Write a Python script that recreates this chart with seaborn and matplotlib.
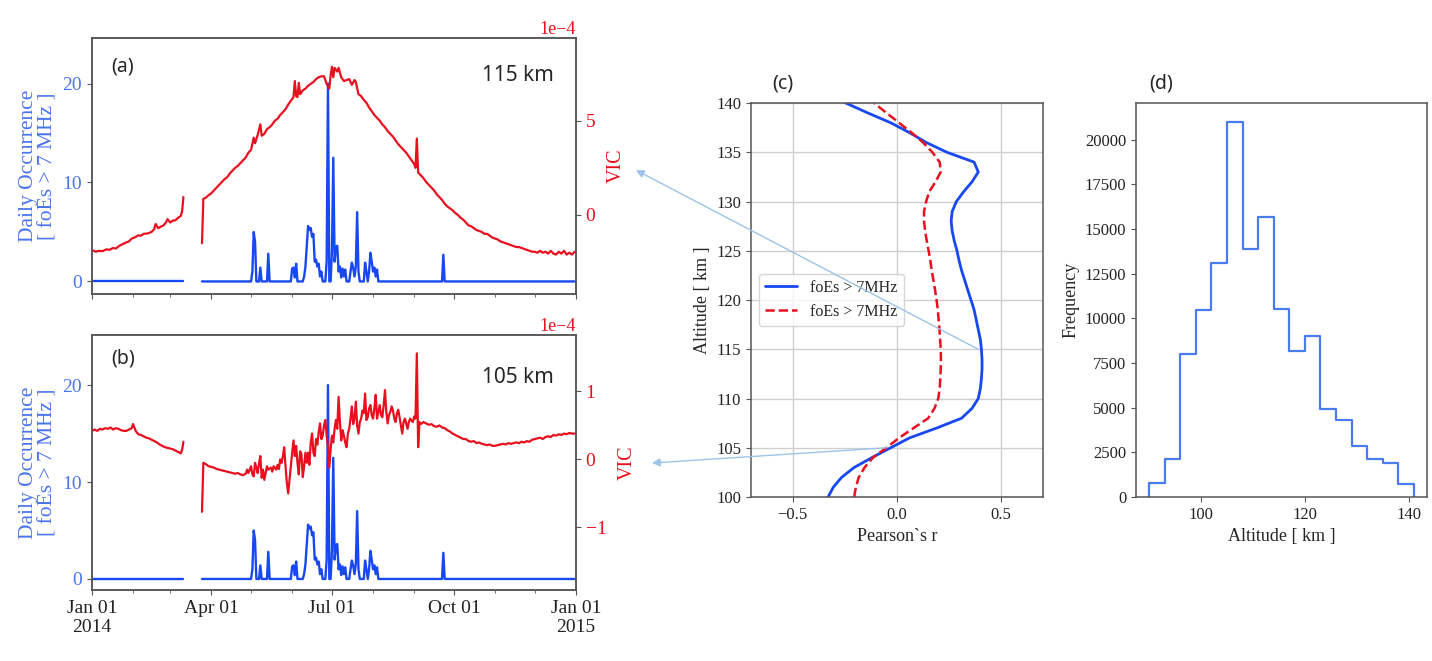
import numpy as np
import pandas as pd
import matplotlib
matplotlib.use("Agg")
import matplotlib.pyplot as plt
import matplotlib.dates as mdates
from matplotlib.patches import ConnectionPatch
import seaborn as sns

# ---------------- data ----------------
START = "2014-01-01"
GAP = (70, 82)  # missing days (day index from Jan 01)

# daily occurrence of foEs > 7 MHz (days not listed are zero)
occ_days = [121, 122, 123, 127, 133, 151, 152, 153, 154,
            160, 161, 162, 163, 164, 165, 166, 167, 168, 169, 170, 171, 172, 173,
            177, 178, 181, 182, 183, 184, 185, 186, 187, 188, 189, 190, 191,
            195, 196, 197, 198, 199, 200, 201,
            206, 207, 209, 210, 211, 212, 213, 214, 215, 265]
occ_vals = [1.0, 5.0, 4.0, 1.4, 2.8, 1.3, 1.4, 0.4, 1.8,
            0.5, 1.5, 3.5, 5.6, 5.2, 5.4, 4.5, 4.8, 2.0, 2.2, 1.5, 1.8, 0.5, 1.0,
            2.0, 20.0, 3.0, 12.5, 2.0, 3.5, 3.6, 1.0, 1.5, 0.4, 1.3, 0.5, 1.2,
            1.0, 1.9, 1.4, 0.5, 1.5, 7.0, 1.0,
            1.9, 1.0, 1.0, 2.9, 2.0, 1.0, 1.4, 0.5, 1.2, 2.7]

# VIC at 115 km (x 1e-4)
vic115_days = [0, 3, 5, 8, 11, 13, 16, 18, 21, 23, 26, 28, 30, 32, 35, 37, 39, 42, 45, 47,
               48, 50, 52, 54, 56, 57, 59, 61, 63, 65, 67, 68, 69,
               83, 84, 86, 88, 90, 92, 94, 96, 98, 100, 102, 104, 106, 108, 110, 112, 114,
               116, 118, 120, 122, 123, 125, 127, 128, 130, 132, 134, 136, 138, 140, 142,
               144, 146, 148, 150, 152, 153, 154, 155, 156, 157, 159, 161, 163, 165, 167,
               169, 171, 173, 175, 177, 179, 180, 181, 182, 183, 185, 186, 188, 190, 192,
               194, 196, 198, 199, 201, 203, 205, 207, 209, 211, 213, 215, 217, 219, 221,
               223, 225, 227, 229, 231, 233, 235, 237, 239, 241, 243, 244, 245, 246, 248,
               250, 252, 254, 256, 258, 260, 262, 264, 266, 268, 270, 272, 274, 276, 278,
               280, 282, 284, 286, 288, 290, 292, 294, 296, 298, 300, 302, 304, 306, 308,
               310, 312, 314, 316, 318, 320, 322, 324, 326, 328, 330, 332, 334, 336, 338,
               340, 342, 344, 346, 348, 350, 352, 354, 356, 358, 360, 362, 364]
vic115_vals = [-1.86, -1.95, -1.9, -1.92, -1.82, -1.85, -1.75, -1.78, -1.62, -1.55, -1.45,
               -1.4, -1.25, -1.2, -1.08, -1.1, -1.0, -0.98, -0.9, -0.75,
               -0.48, -0.7, -0.62, -0.55, -0.38, -0.22, -0.4, -0.3, -0.28, -0.15, -0.05, 0.2, 0.95,
               -1.5, 0.85, 0.92, 1.05, 1.15, 1.3, 1.45, 1.6, 1.75, 1.9, 2.0, 2.2, 2.35, 2.5,
               2.6, 2.75, 2.9,
               3.05, 3.3, 3.45, 4.1, 3.8, 4.25, 4.8, 4.2, 4.3, 4.55, 4.65, 4.8, 5.0, 5.1, 5.3,
               5.45, 5.6, 5.85, 6.05, 6.25, 7.1, 6.3, 6.25, 7.0, 6.4, 6.6, 6.7, 6.85, 6.95, 7.05,
               7.2, 7.3, 7.35, 7.35, 6.95, 6.7, 7.4, 7.85, 7.3, 7.8, 7.6, 7.8, 7.3, 7.1, 7.15,
               7.2, 6.9, 7.15, 7.05, 6.4, 6.3, 6.1, 5.95, 5.7, 5.5, 5.3, 5.15, 5.0, 4.8, 4.65,
               4.45, 4.3, 4.15, 3.95, 3.75, 3.6, 3.45, 3.3, 3.1, 2.9, 2.7, 2.5, 4.05, 2.25, 2.1,
               1.95, 1.75, 1.6, 1.45, 1.3, 1.1, 0.95, 0.8, 0.6, 0.45, 0.35, 0.25, 0.1, 0.0, -0.15,
               -0.25, -0.4, -0.55, -0.6, -0.7, -0.8, -0.85, -0.9, -1.0, -1.0, -1.1, -1.2, -1.25,
               -1.3, -1.4,
               -1.45, -1.5, -1.55, -1.6, -1.65, -1.7, -1.7, -1.75, -1.8, -1.85, -1.9, -1.95,
               -1.95, -2.0, -1.9,
               -2.0, -1.95, -2.05, -1.9, -2.05, -2.1, -1.95, -2.05, -1.9, -2.1, -2.0, -2.1, -1.95]

# VIC at 105 km (x 1e-4)
vic105_days = [0, 2, 4, 6, 8, 10, 12, 14, 16, 18, 20, 22, 24, 26, 28, 30, 31, 33, 35, 37,
               39, 41, 43, 45, 47, 49, 51, 53, 55, 57, 59, 61, 63, 65, 67, 68, 69,
               83, 84, 86, 88, 90, 92, 94, 96, 98, 100, 102, 104, 106, 108, 110, 112, 114,
               116, 117, 118, 120, 121, 122, 123, 124, 125, 126, 127, 128, 129, 130, 131,
               132, 133, 135, 136, 137, 139, 140, 141, 142, 143, 144, 145, 146, 147, 148,
               149, 150, 151, 152, 153, 154, 155, 156, 157, 158, 159, 160, 161, 162, 163,
               164, 165, 166, 167, 168, 169, 170, 171, 172, 173, 174, 175, 176, 177, 178,
               179, 180, 181, 182, 183, 184, 185, 186, 187, 188, 189, 190, 191, 192, 193,
               194, 195, 196, 197, 198, 199, 200, 201, 202, 203, 204, 205, 206, 207, 208,
               209, 210, 211, 212, 213, 214, 215, 216, 217, 218, 219, 220, 221, 222, 223,
               224, 225, 226, 227, 228, 229, 230, 231, 232, 233, 234, 235, 236, 237, 238,
               239, 240, 241, 242, 243, 244, 245, 246, 247, 248, 250, 252, 254, 256, 258,
               260, 262, 264, 266, 268, 270, 272, 274, 276, 278, 280, 282, 284, 286, 288,
               290, 292, 294, 296, 298, 300, 302, 304, 306, 308, 310, 312, 314, 316, 318,
               320, 322, 324, 326, 328, 330, 332, 334, 336, 338, 340, 342, 344, 346, 348,
               350, 352, 354, 356, 358, 360, 362, 364]
vic105_vals = [0.42, 0.44, 0.42, 0.45, 0.44, 0.46, 0.45, 0.47, 0.44, 0.46, 0.45, 0.43, 0.42,
               0.42, 0.44, 0.46, 0.52, 0.42, 0.37, 0.36,
               0.34, 0.32, 0.31, 0.29, 0.27, 0.25, 0.22, 0.2, 0.18, 0.17, 0.16, 0.15, 0.13,
               0.11, 0.09, 0.14, 0.26,
               -0.77, -0.05, -0.07, -0.1, -0.11, -0.12, -0.14, -0.15, -0.16, -0.17, -0.18,
               -0.19, -0.2, -0.21, -0.2, -0.22, -0.23,
               -0.21, -0.15, -0.2, -0.1, -0.22, -0.25, -0.05, -0.12, -0.2, -0.06, 0.05, -0.27,
               -0.15, -0.3, -0.2,
               -0.1, -0.15, -0.12, -0.18, -0.1, -0.15, -0.08, -0.14, 0.0, -0.05, 0.05, 0.18,
               -0.1, -0.35, -0.5,
               -0.3, -0.1, 0.1, 0.28, 0.05, 0.2, -0.05, -0.22, 0.12, 0.08, -0.26, -0.1, 0.1,
               -0.05, 0.1,
               -0.08, 0.25, 0.38, 0.1, 0.05, 0.3, 0.22, 0.4, 0.53, 0.3, 0.35, 0.5, 0.58, 0.35,
               0.19,
               -0.12, 0.15, 0.35, 0.25, 0.45, 0.58, 0.45, 0.92, 0.55, 0.28, 0.43, 0.35, 0.25,
               0.18, 0.38,
               0.45, 0.6, 0.78, 0.52, 0.6, 0.85, 0.5, 0.38, 0.55, 0.6, 0.72, 0.68, 0.97, 0.58,
               0.62,
               0.75, 0.8, 0.65, 0.6, 0.75, 0.95, 0.6, 0.7, 0.8, 0.65, 0.62, 0.8, 1.02, 0.7, 0.53,
               0.65, 0.7, 0.78, 0.72, 0.6, 0.55, 0.68, 0.73, 0.62, 0.5, 0.38, 0.55, 0.6, 0.53,
               0.45,
               0.55, 0.6, 0.57, 0.55, 0.63, 0.6, 1.56, 0.18, 0.55, 0.52, 0.55, 0.53, 0.51, 0.52,
               0.49,
               0.48, 0.5, 0.47, 0.46, 0.43, 0.41, 0.38, 0.36, 0.34, 0.32, 0.3, 0.3, 0.27, 0.26,
               0.27,
               0.24, 0.25, 0.23, 0.22, 0.21, 0.22, 0.2, 0.2, 0.21, 0.22, 0.23, 0.22, 0.24, 0.23,
               0.24,
               0.25, 0.24, 0.26, 0.25, 0.27, 0.26, 0.29, 0.3, 0.31, 0.32, 0.3, 0.33, 0.34, 0.33,
               0.36,
               0.35, 0.37, 0.36, 0.38, 0.37, 0.39, 0.38, 0.38]

# panel (c): correlation profile
altitude = list(range(100, 141))
r_solid = [-0.33, -0.305, -0.265, -0.205, -0.12, -0.03, 0.06, 0.19, 0.31, 0.36, 0.39,
           0.40, 0.405, 0.408, 0.408, 0.405, 0.40, 0.39, 0.38, 0.37, 0.355, 0.34, 0.325,
           0.31, 0.298, 0.288, 0.275, 0.265, 0.26, 0.265, 0.285, 0.32, 0.36, 0.39, 0.37,
           0.24, 0.14, 0.06, -0.03, -0.14, -0.245]
r_dashed = [-0.205, -0.197, -0.183, -0.155, -0.115, -0.05, 0.01, 0.08, 0.15, 0.18, 0.198,
            0.205, 0.208, 0.21, 0.211, 0.21, 0.207, 0.204, 0.2, 0.196, 0.19, 0.183, 0.175,
            0.167, 0.16, 0.152, 0.143, 0.135, 0.13, 0.13, 0.14, 0.155, 0.185, 0.21, 0.205,
            0.17, 0.125, 0.07, 0.01, -0.05, -0.11]

# panel (d): altitude histogram
bin_edges = [90, 93, 96, 99, 102, 105, 108, 111, 114, 117, 120, 123, 126, 129, 132, 135, 138, 141]
bin_counts = [800, 2150, 8000, 10450, 13100, 21000, 13900, 15700, 10550, 8200, 9000,
              4900, 4300, 2850, 2150, 1900, 700]

tick_dates = ["2014-01-01", "2014-04-01", "2014-07-01", "2014-10-01", "2015-01-01"]
tick_labels = ["Jan 01\n2014", "Apr 01", "Jul 01", "Oct 01", "Jan 01\n2015"]

# ---------------- style ----------------
BLUE = "#1748f2"
BLUE_TXT = "#4a74ee"
RED = "#e8101e"
HIST = "#4a7cf0"
ARROW = "#9cc3e8"
EDGE = "#555555"

sns.set_style("ticks")
plt.rcParams['font.family'] = ['Liberation Serif', 'DejaVu Serif']
plt.rcParams['axes.edgecolor'] = EDGE
plt.rcParams['xtick.color'] = EDGE
plt.rcParams['ytick.color'] = EDGE
plt.rcParams['xtick.labelcolor'] = '#222222'
plt.rcParams['ytick.labelcolor'] = '#222222'
plt.rcParams['axes.linewidth'] = 1.1

fig = plt.figure(figsize=(14.32, 6.61), dpi=100)
ax_a = fig.add_axes([0.0642, 0.5552, 0.338, 0.3873])
ax_b = fig.add_axes([0.0642, 0.1074, 0.338, 0.3858])
ax_c = fig.add_axes([0.5244, 0.2481, 0.2039, 0.5960])
ax_d = fig.add_axes([0.7933, 0.2481, 0.2032, 0.5960])

start = pd.Timestamp(START)


def to_frame(days, vals):
    days = np.asarray(days)
    df = pd.DataFrame({"date": start + pd.to_timedelta(days, unit="D"),
                       "val": np.asarray(vals, dtype=float),
                       "seg": np.where(days < GAP[0], 0, 1)})
    return df


# daily occurrence: zero on every observed day except listed ones
obs_days = [d for d in range(365) if not (GAP[0] <= d <= GAP[1])]
occ = dict(zip(occ_days, occ_vals))
occ_df = to_frame(obs_days, [occ.get(d, 0.0) for d in obs_days])


def draw_ts(ax, vic_days, vic_vals, ylim_l, ylim_r, rticks, tag, alt_txt, tag_y, alt_y, labels):
    sns.lineplot(data=occ_df, x="date", y="val", units="seg", estimator=None,
                 color=BLUE, lw=1.7, ax=ax)
    ax.set_ylim(*ylim_l)
    ax.set_yticks([0, 10, 20])
    ax.set_xlim(start, pd.Timestamp("2015-01-01"))
    ax.set_xticks(pd.to_datetime(tick_dates))
    ax.xaxis.set_minor_locator(mdates.MonthLocator())
    if labels:
        ax.set_xticklabels(tick_labels)
    else:
        ax.set_xticklabels([])
    ax.tick_params(axis="both", labelsize=14)
    ax.tick_params(axis="y", labelcolor=BLUE_TXT)
    ax.set_xlabel("")
    ax.set_ylabel("Daily Occurrence\n[ foEs > 7 MHz ]", color=BLUE_TXT, fontsize=15.5,
                  linespacing=1.0)

    ax2 = ax.twinx()
    vdf = to_frame(vic_days, vic_vals)
    vdf["val"] = vdf["val"] * 1e-4
    sns.lineplot(data=vdf, x="date", y="val", units="seg", estimator=None,
                 color=RED, lw=1.6, ax=ax2)
    ax2.set_ylim(ylim_r[0] * 1e-4, ylim_r[1] * 1e-4)
    ax2.set_yticks([t * 1e-4 for t in rticks])
    ax2.ticklabel_format(axis="y", style="sci", scilimits=(0, 0))
    ax2.yaxis.get_offset_text().set_color(RED)
    ax2.yaxis.get_offset_text().set_fontsize(13)
    ax2.tick_params(axis="y", labelsize=14, labelcolor=RED)
    ax2.set_ylabel("VIC", color=RED, fontsize=14.5, labelpad=8)
    ax2.set_xlabel("")
    for sp in ax2.spines.values():
        sp.set_color(EDGE)

    ax.text(0.04, tag_y, tag, transform=ax.transAxes, fontsize=14,
            family=["Noto Sans", "DejaVu Sans"], va="center", ha="left")
    ax.text(0.955, alt_y, alt_txt, transform=ax.transAxes, fontsize=15,
            family=["Noto Sans", "DejaVu Sans"], va="center", ha="right")
    return ax2


draw_ts(ax_a, vic115_days, vic115_vals, (-1.27, 24.6), (-4.19, 9.38), [0, 5],
        "(a)", "115 km", 0.89, 0.855, False)
draw_ts(ax_b, vic105_days, vic105_vals, (-1.14, 25.17), (-1.92, 1.83), [-1, 0, 1],
        "(b)", "105 km", 0.906, 0.835, True)

# ---- panel (c)
sns.lineplot(x=r_solid, y=altitude, orient="y", color=BLUE, lw=2.0,
             label="foEs > 7MHz", ax=ax_c)
sns.lineplot(x=r_dashed, y=altitude, orient="y", color=RED, lw=1.8, linestyle="--",
             label="foEs > 7MHz", ax=ax_c)
ax_c.set_xlim(-0.7, 0.7)
ax_c.set_ylim(100, 140)
ax_c.set_xticks([-0.5, 0.0, 0.5])
ax_c.set_yticks(range(100, 141, 5))
ax_c.grid(True, color="#cfcfcf", lw=1.0)
ax_c.tick_params(labelsize=12)
ax_c.set_xlabel("Pearson`s r", fontsize=13)
ax_c.set_ylabel("Altitude [ km ]", fontsize=13)
ax_c.legend(loc="center left", fontsize=11.5)
ax_c.text(0.11, 1.05, "(c)", transform=ax_c.transAxes, fontsize=14,
          family=["Noto Sans", "DejaVu Sans"], ha="center", va="center")

# ---- panel (d)
centers = [(a + b) / 2 for a, b in zip(bin_edges[:-1], bin_edges[1:])]
sns.histplot(x=centers, weights=bin_counts, bins=bin_edges, element="step", fill=False,
             color=HIST, lw=1.6, ax=ax_d)
ax_d.vlines([bin_edges[0], bin_edges[-1]], 0, [bin_counts[0], bin_counts[-1]],
            color=HIST, lw=1.6)
ax_d.set_xticks([100, 120, 140])
ax_d.set_yticks(range(0, 20001, 2500))
ax_d.tick_params(labelsize=12)
ax_d.set_xlabel("Altitude [ km ]", fontsize=13)
ax_d.set_ylabel("Frequency", fontsize=13)
ax_d.text(0.085, 1.05, "(d)", transform=ax_d.transAxes, fontsize=14,
          family=["Noto Sans", "DejaVu Sans"], ha="center", va="center")

# ---- arrows from panel (c) to the time series
for xyA, axB, xyB in [((0.39, 115), ax_a, (1.124, 0.484)),
                      ((-0.05, 105), ax_b, (1.157, 0.498))]:
    con = ConnectionPatch(xyA=xyA, coordsA="data", axesA=ax_c,
                          xyB=xyB, coordsB="axes fraction", axesB=axB,
                          arrowstyle="-|>", color=ARROW, lw=1.0, mutation_scale=12)
    fig.add_artist(con)

plt.savefig("out.png", dpi=100)
